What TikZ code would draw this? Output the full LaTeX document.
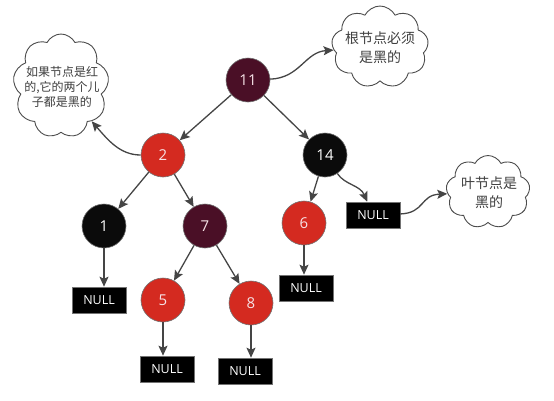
\documentclass[tikz,border=0pt]{standalone}
\usepackage{fontspec}
\setmainfont{Open Sans}
\newfontfamily\cjk{Noto Sans CJK SC}
\usetikzlibrary{shapes.symbols,arrows.meta}
\definecolor{nred}{HTML}{D42A20}
\definecolor{nmaroon}{HTML}{4A0F26}
\definecolor{nblack}{HTML}{0B0B0B}
\definecolor{edge}{HTML}{454545}
\definecolor{ntext}{HTML}{F6E2E6}
\begin{document}
\begin{tikzpicture}[x=1pt,y=-1pt,
  rb/.style={circle, draw=black!55, line width=0.6pt, minimum size=44pt, inner sep=0pt,
             text=ntext, font=\fontsize{15}{15}\selectfont},
  rnode/.style={rb, fill=nred},
  mnode/.style={rb, fill=nmaroon},
  bnode/.style={rb, fill=nblack, text=white},
  nullbox/.style={rectangle, fill=black, draw=black!55, line width=0.6pt, minimum width=54pt,
             minimum height=26pt, inner sep=0pt, text=white, font=\fontsize{12.5}{12.5}\selectfont},
  note/.style={cloud, cloud puffs=9, cloud puff arc=125, cloud ignores aspect, draw=black!70, line width=0.9pt,
             fill=white, inner sep=0pt},
  notetext/.style={align=center, text=black!75, inner sep=0pt},
  arr/.style={draw=edge, line width=1.3pt, -{Stealth[length=10pt,width=9pt,inset=2pt]}}
]
\useasboundingbox (0,0) rectangle (554,400);
% tree nodes
\node[mnode] (n11) at (248,80) {11};
\node[rnode] (n2) at (163,155) {2};
\node[bnode] (n14) at (325,155) {14};
\node[bnode] (n1) at (104,226) {1};
\node[mnode] (n7) at (205,226) {7};
\node[rnode] (n6) at (304,223) {6};
\node[rnode] (n5) at (163,300) {5};
\node[rnode] (n8) at (251,303) {8};
% NULL boxes
\node[nullbox] (l1) at (99,300) {NULL};
\node[nullbox] (l14) at (373,215) {NULL};
\node[nullbox] (l6) at (306,288) {NULL};
\node[nullbox] (l5) at (167,369) {NULL};
\node[nullbox] (l8) at (245,371) {NULL};
% clouds
\node[note, minimum width=96pt, minimum height=104pt] (cl) at (61,86) {};
\node[notetext, font=\cjk\fontsize{12}{15}\selectfont] (tl) at (62,87) {如果节点是红\\的,它的两个儿\\子都是黑的};
\node[note, minimum width=97pt, minimum height=82pt] (ct) at (380,47) {};
\node[notetext, font=\cjk\fontsize{14}{19}\selectfont] (tt) at (380,48) {根节点必须\\是黑的};
\node[note, minimum width=84pt, minimum height=73pt] (cr) at (488,192) {};
\node[notetext, font=\cjk\fontsize{14}{19}\selectfont] (tr) at (489,193) {叶节点是\\黑的};
% edges
\draw[arr] (n11) -- (n2);
\draw[arr] (n11) -- (n14);
\draw[arr] (n2) -- (n1);
\draw[arr] (n2) -- (n7);
\draw[arr] (n14) -- (n6);
\draw[arr] (n14) .. controls (345,185) and (360,185) .. (l14);
\draw[arr] (n7) -- (n5);
\draw[arr] (n7) -- (n8);
\draw[arr] (n1.south) -- (n1.south |- l1.north);
\draw[arr] (n6.south) -- (n6.south |- l6.north);
\draw[arr] (n5.south) -- (n5.south |- l5.north);
\draw[arr] (n8.south) -- (n8.south |- l8.north);
% annotation arrows
\draw[arr] (n11) .. controls (300,78) and (305,52) .. (ct);
\draw[arr] (n2) .. controls (120,155) and (108,140) .. (cl);
\draw[arr] (l14) .. controls (425,213) and (420,195) .. (cr);
\end{tikzpicture}
\end{document}
